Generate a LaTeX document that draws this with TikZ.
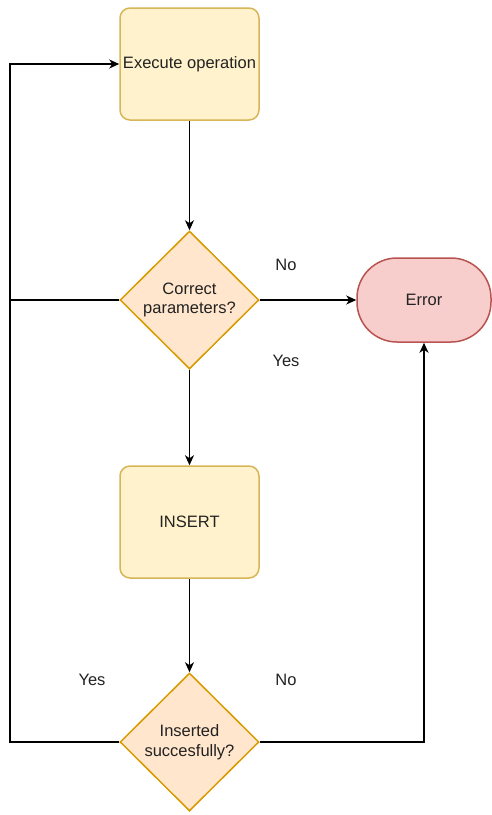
\documentclass[tikz,border=0pt]{standalone}
\usepackage{fontspec}
\setmainfont{Liberation Sans}
\usetikzlibrary{arrows.meta,shapes.geometric}
\definecolor{boxfill}{HTML}{FFF2CC}
\definecolor{boxline}{HTML}{D6B656}
\definecolor{decfill}{HTML}{FFE6CC}
\definecolor{decline}{HTML}{D79B00}
\definecolor{errfill}{HTML}{F8CECC}
\definecolor{errline}{HTML}{B85450}
\definecolor{txt}{HTML}{222222}

\begin{document}
\begin{tikzpicture}[x=1pt,y=-1pt,>={Stealth[length=10pt,width=9pt,inset=3pt]},line width=1.1pt,node distance=222pt,
		font=\fontsize{16.5}{19.5}\selectfont,text=txt,
		process/.style={rectangle, rounded corners=10pt, draw=boxline, fill=boxfill, line width=1.5pt, minimum width=139pt, minimum height=112pt, inner sep=1pt, align=center},
		decision/.style={diamond, aspect=1, draw=decline, fill=decfill, line width=1.5pt, minimum width=139pt, minimum height=138pt, inner sep=0pt, align=center},
		terminal/.style={rectangle, rounded corners=40pt, draw=errline, fill=errfill, line width=1.5pt, minimum width=134pt, minimum height=84pt, align=center},
		answer/.style={inner sep=1pt}]
				\useasboundingbox (0,0) rectangle (492,815);

				\node[process]       (exec)  at (189.5,64)  {Execute operation};
				\node[decision]      (check) [below of=exec, node distance=236pt] {Correct\\parameters?};
				\node[terminal]      (error) [right of=check, node distance=234.5pt] {Error};
				\node[process]       (insert) [below of=check] {INSERT};
				\node[decision]      (done)  [below of=insert, node distance=220pt] {Inserted\\succesfully?};

				\coordinate (loop) at (10,742);

				\node[answer] (no1)  at (286,265) {No};
				\node[answer] (yes1) at (286,361) {Yes};
				\node[answer] (yes2) at (92,680)  {Yes};
				\node[answer] (no2)  at (286,680) {No};

				\path[->] (exec)   edge (check)
						  (check)  edge (error)
						  (check)  edge (insert)
						  (insert) edge (done);
				\draw[->] (done.west) -- (loop) |- (exec.west);
				\draw (check.west) -- (check.west -| loop);
				\draw[->] (done.east) -| (error.south);

			\end{tikzpicture}
\end{document}
